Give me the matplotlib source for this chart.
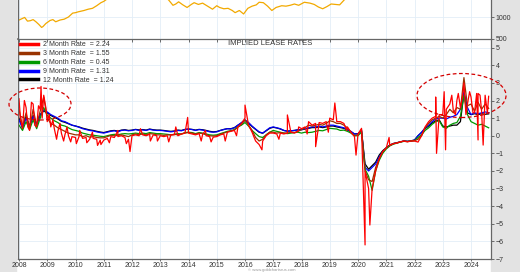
import numpy as np
import matplotlib
matplotlib.use("Agg")
import matplotlib.pyplot as plt
from matplotlib.patches import Ellipse, Rectangle

plt.rcParams['font.family'] = ['Liberation Sans', 'DejaVu Sans']

gold_t = [2008.0, 2008.1, 2008.2, 2008.3, 2008.4, 2008.5, 2008.6, 2008.7, 2008.8, 2008.85,
          2008.95, 2009.1, 2009.2, 2009.3, 2009.45, 2009.6, 2009.75, 2009.9, 2010.0, 2010.1,
          2010.3, 2010.45, 2010.6, 2010.75, 2010.9, 2011.0, 2011.3, 2011.6, 2011.7, 2012.0,
          2012.5, 2012.8, 2013.0, 2013.25, 2013.3, 2013.45, 2013.55, 2013.65, 2013.8, 2013.95,
          2014.1, 2014.2, 2014.35, 2014.5, 2014.65, 2014.85, 2015.0, 2015.1, 2015.25, 2015.4,
          2015.55, 2015.65, 2015.8, 2015.95, 2016.1, 2016.25, 2016.4, 2016.5, 2016.65, 2016.8,
          2016.95, 2017.1, 2017.3, 2017.45, 2017.6, 2017.75, 2017.9, 2018.1, 2018.3, 2018.45,
          2018.6, 2018.75, 2018.9, 2019.05, 2019.2, 2019.35, 2019.45, 2019.55, 2019.7, 2020.0,
          2020.5, 2021.0, 2022.0, 2023.0, 2024.0, 2024.7]
gold_v = [930, 960, 990, 905, 915, 940, 890, 830, 760, 780,
          850, 920, 940, 890, 930, 950, 1000, 1090, 1100, 1120,
          1150, 1180, 1200, 1260, 1330, 1360, 1500, 1800, 1850, 1650,
          1600, 1750, 1670, 1420, 1390, 1270, 1300, 1350, 1280, 1220,
          1290, 1330, 1290, 1320, 1260, 1180, 1260, 1220, 1190, 1200,
          1150, 1100, 1150, 1070, 1200, 1250, 1280, 1340, 1330, 1250,
          1150, 1220, 1260, 1250, 1270, 1300, 1270, 1340, 1320, 1290,
          1230, 1190, 1240, 1300, 1290, 1280, 1350, 1420, 1510, 1560,
          1800, 1850, 1800, 1900, 2050, 2400]

# lease rates, 8 readings per year from 2008.0 to 2024.625
t = np.arange(2008.0, 2024.63, 0.125)

m12 = [1.0, 0.5, 1.1, 0.55, 1.15, 0.65, 1.2, 1.4,
       1.3, 1.15, 1.05, 0.95, 0.82, 0.76, 0.68, 0.6,
       0.55, 0.5, 0.43, 0.38, 0.33, 0.3, 0.25, 0.21,
       0.18, 0.23, 0.28, 0.3, 0.26, 0.32, 0.34, 0.3,
       0.32, 0.36, 0.33, 0.35, 0.32, 0.38, 0.34, 0.32,
       0.32, 0.3, 0.27, 0.25, 0.27, 0.32, 0.3, 0.36,
       0.38, 0.36, 0.32, 0.36, 0.34, 0.3, 0.25, 0.22,
       0.24, 0.3, 0.36, 0.4, 0.4, 0.46, 0.6, 0.72,
       0.88, 0.72, 0.52, 0.36, 0.2, 0.14, 0.28, 0.42,
       0.48, 0.44, 0.38, 0.3, 0.26, 0.28, 0.3, 0.34,
       0.34, 0.38, 0.42, 0.46, 0.46, 0.5, 0.46, 0.5,
       0.55, 0.55, 0.5, 0.46, 0.42, 0.33, 0.22, 0.1,
       0.12, 0.28, -1.6, -1.9, -1.7, -1.5, -1.1, -0.85,
       -0.68, -0.53, -0.44, -0.4, -0.35, -0.3, -0.32, -0.29,
       -0.24, 0.0, 0.18, 0.4, 0.55, 0.72, 0.85, 0.9,
       0.55, 0.5, 0.55, 0.6, 0.6, 0.8, 2.4, 1.3,
       1.2, 1.25, 1.2, 1.25, 1.22, 1.24]

m9 = [0.9, 0.4, 1.0, 0.5, 1.1, 0.6, 1.2, 1.45,
      1.35, 1.2, 1.1, 1.0, 0.85, 0.8, 0.7, 0.6,
      0.55, 0.48, 0.4, 0.35, 0.3, 0.27, 0.22, 0.18,
      0.15, 0.2, 0.25, 0.28, 0.22, 0.3, 0.32, 0.28,
      0.3, 0.35, 0.3, 0.33, 0.3, 0.36, 0.32, 0.3,
      0.3, 0.28, 0.25, 0.22, 0.25, 0.3, 0.28, 0.35,
      0.38, 0.35, 0.3, 0.35, 0.32, 0.28, 0.22, 0.2,
      0.22, 0.3, 0.35, 0.4, 0.38, 0.45, 0.6, 0.75,
      0.9, 0.75, 0.55, 0.38, 0.22, 0.15, 0.3, 0.45,
      0.5, 0.45, 0.4, 0.3, 0.25, 0.28, 0.3, 0.33,
      0.35, 0.4, 0.45, 0.5, 0.5, 0.55, 0.5, 0.55,
      0.6, 0.6, 0.55, 0.5, 0.45, 0.35, 0.25, 0.1,
      0.1, 0.3, -1.8, -2.0, -1.8, -1.6, -1.2, -0.9,
      -0.7, -0.55, -0.45, -0.4, -0.35, -0.3, -0.32, -0.3,
      -0.25, 0.0, 0.2, 0.45, 0.6, 0.8, 0.95, 1.0,
      1.0, 0.95, 1.05, 1.1, 1.2, 1.5, 2.5, 1.6,
      1.2, 1.3, 1.25, 1.3, 1.35, 1.31]

m6 = [0.6, 0.3, 0.8, 0.35, 0.9, 0.4, 1.0, 1.6,
      1.15, 1.0, 0.85, 0.75, 0.6, 0.55, 0.45, 0.35,
      0.3, 0.25, 0.15, 0.1, 0.05, 0.03, 0.0, -0.03,
      -0.05, 0.0, 0.05, 0.08, 0.05, 0.1, 0.12, 0.1,
      0.12, 0.15, 0.12, 0.15, 0.12, 0.18, 0.15, 0.12,
      0.12, 0.1, 0.08, 0.05, 0.08, 0.12, 0.1, 0.18,
      0.2, 0.18, 0.12, 0.18, 0.15, 0.1, 0.05, 0.03,
      0.05, 0.12, 0.18, 0.25, 0.28, 0.35, 0.5, 0.6,
      0.75, 0.55, 0.3, 0.12, -0.05, -0.1, 0.05, 0.2,
      0.3, 0.25, 0.2, 0.15, 0.12, 0.15, 0.18, 0.2,
      0.15, 0.2, 0.18, 0.2, 0.25, 0.3, 0.28, 0.35,
      0.42, 0.4, 0.38, 0.3, 0.32, 0.25, 0.15, 0.0,
      0.0, 0.2, -1.9, -2.3, -3.1, -2.0, -1.4, -1.0,
      -0.75, -0.58, -0.48, -0.42, -0.36, -0.32, -0.33, -0.3,
      -0.28, -0.1, 0.05, 0.3, 0.45, 0.65, 0.8, 0.85,
      0.5, 0.42, 0.6, 0.7, 0.75, 1.1, 2.3, 1.2,
      0.8, 0.7, 0.6, 0.65, 0.55, 0.45]

m3 = [1.5, 0.5, 1.3, 0.4, 1.5, 0.6, 1.4, 2.2,
      1.0, 0.7, 0.6, 0.45, 0.35, 0.25, 0.15, 0.1,
      0.05, 0.05, -0.05, 0.0, -0.08, -0.05, -0.1, -0.12,
      -0.12, -0.05, 0.02, 0.0, 0.02, 0.05, 0.0, -0.05,
      0.05, 0.1, 0.05, 0.1, 0.05, 0.12, 0.1, 0.05,
      0.05, 0.02, 0.05, 0.05, 0.08, 0.05, 0.1, 0.15,
      0.18, 0.15, 0.1, 0.15, 0.12, 0.05, 0.0, -0.02,
      0.0, 0.08, 0.15, 0.22, 0.28, 0.32, 0.5, 0.65,
      0.9, 0.6, 0.3, -0.1, -0.3, -0.2, 0.05, 0.2,
      0.2, 0.15, 0.18, 0.15, 0.15, 0.2, 0.18, 0.25,
      0.35, 0.45, 0.6, 0.55, 0.6, 0.65, 0.6, 0.7,
      0.85, 0.8, 0.7, 0.7, 0.6, 0.45, 0.2, 0.0,
      0.05, 0.35, -2.0, -2.5, -2.6, -1.8, -1.3, -0.9,
      -0.7, -0.55, -0.45, -0.4, -0.35, -0.3, -0.33, -0.3,
      -0.28, -0.2, 0.0, 0.45, 0.7, 0.9, 1.0, 1.1,
      1.0, 1.2, 1.5, 1.3, 1.6, 1.5, 3.3, 1.7,
      1.8, 1.4, 1.9, 1.5, 1.8, 1.55]

m2 = [2.1, 0.4, 1.6, 0.3, 1.8, 0.5, 1.5, 2.3,
      0.8, 0.5, 0.4, 0.25, 0.15, 0.05, 0.0, -0.05,
      -0.1, -0.05, -0.15, -0.1, -0.2, -0.15, -0.2, -0.25,
      -0.25, -0.15, -0.05, -0.1, -0.05, 0.0, -0.1, -0.2,
      0.0, 0.05, 0.0, 0.05, 0.0, 0.08, 0.05, 0.0,
      0.0, -0.05, 0.0, 0.05, 0.05, 0.0, 0.1, 0.15,
      0.15, 0.1, 0.05, 0.12, 0.08, 0.0, -0.05, -0.08,
      -0.05, 0.05, 0.1, 0.2, 0.25, 0.3, 0.5, 0.7,
      1.0, 0.6, 0.2, -0.3, -0.5, -0.3, 0.0, 0.15,
      0.15, 0.1, 0.15, 0.1, 0.15, 0.2, 0.15, 0.25,
      0.4, 0.5, 0.8, 0.6, 0.7, 0.75, 0.7, 0.8,
      1.0, 0.9, 0.8, 0.8, 0.7, 0.5, 0.2, -0.05,
      0.1, 0.42, -2.0, -3.0, -3.0, -2.0, -1.3, -0.9,
      -0.7, -0.55, -0.45, -0.42, -0.35, -0.3, -0.35, -0.3,
      -0.3, -0.36, 0.0, 0.5, 0.8, 1.0, 1.1, 1.2,
      1.2, 1.5, 1.8, 1.4, 2.0, 1.6, 3.0, 1.8,
      2.2, 1.3, 2.4, 1.4, 2.3, 2.24]

# single-day spikes on the 2 month rate
m2_spike_t = [2008.05, 2008.19, 2008.31, 2008.44, 2008.56, 2008.69, 2008.78, 2008.82, 2008.95,
              2009.07, 2009.2, 2009.33, 2009.45, 2009.58, 2009.7, 2009.83, 2010.03, 2010.15,
              2010.4, 2010.6, 2010.78, 2010.9, 2011.2, 2011.5, 2011.8, 2011.93, 2012.3,
              2012.65, 2012.9, 2013.3, 2013.55, 2013.97, 2014.45, 2014.6, 2014.8, 2015.3,
              2015.7, 2016.0, 2016.6, 2017.2, 2017.5, 2017.9, 2018.2, 2018.5, 2018.95,
              2019.18, 2019.6, 2019.93, 2020.25, 2020.42, 2021.1, 2022.75, 2022.78,
              2023.05, 2023.1, 2023.32, 2023.45, 2023.55, 2023.7, 2023.82, 2023.95, 2024.07,
              2024.2, 2024.25, 2024.32, 2024.43, 2024.5, 2024.58]
m2_spike_v = [1.0, 2.0, 0.5, 1.9, 0.6, 1.7, 2.8, 1.0, 1.6,
              1.2, 0.9, -0.2, 0.7, -0.3, 0.5, -0.35, -0.45, 0.3,
              -0.4, 0.2, -0.55, -0.5, -0.4, 0.3, -0.45, -0.9, 0.4,
              -0.3, -0.3, -0.35, 0.5, 1.04, -0.3, 0.3, -0.35, -0.3,
              0.0, 1.74, -0.8, -0.2, 1.18, 0.5, 0.1, -0.62, 0.2,
              1.86, 0.3, -1.1, -6.2, -5.07, -0.1, 2.2, -1.0,
              2.5, -0.8, 2.3, 1.2, 2.4, 2.2, 1.2, 2.5, 1.3,
              2.4, -0.24, 2.3, -0.53, 2.2, 1.3]

labels = ['2 Month Rate  = 2.24', '3 Month Rate  = 1.55', '6 Month Rate  = 0.45',
          '9 Month Rate  = 1.31', '12 Month Rate  = 1.24']
colors = ['#ff0000', '#993300', '#009900', '#0000ff', '#000000']
years = list(range(2008, 2025))

W, H = 520, 272
fig = plt.figure(figsize=(W / 100, H / 100), dpi=100, facecolor='white')
fig.add_artist(Rectangle((0, 0), 16 / W, 1, transform=fig.transFigure,
                         color='#e3e3e3', zorder=-5))
fig.add_artist(Rectangle((491 / W, 0), 1 - 491 / W, 1, transform=fig.transFigure,
                         color='#e3e3e3', zorder=-5))

ax = fig.add_axes([18 / W, 13 / H, 473 / W, 220.3 / H])
ax_top = fig.add_axes([18 / W, (H - 38.7) / H, 473 / W, 38.7 / H])

xlim = (2008 - 1 / 28.25, 2008 + 472 / 28.25)
txt = '#333333'
grid_c = '#e3eef7'

# top panel: gold
ax_top.plot(gold_t, gold_v, color='#f2a900', lw=0.9)
ax_top.set_xlim(*xlim)
ax_top.set_ylim(500, 1392)
ax_top.set_xticks(years)
ax_top.set_xticklabels([])
ax_top.set_yticks([500, 1000])

# bottom panel: lease rates
st = np.concatenate([t, m2_spike_t])
sv = np.concatenate([m2, m2_spike_v])
order = np.argsort(st)
series = [(st[order], sv[order]), (t, m3), (t, m6), (t, m9), (t, m12)]
handles = []
for i in [4, 3, 2, 1, 0]:
    x, y = series[i]
    h, = ax.plot(x, y, color=colors[i], lw=0.9, label=labels[i])
    handles.append(h)
handles = handles[::-1]
ax.set_xlim(*xlim)
ax.set_ylim(-7, 5.51)
ax.set_xticks(years)
ax.set_xticklabels([str(y) for y in years])
ax.set_yticks(range(-7, 6))

for a in (ax, ax_top):
    a.yaxis.tick_right()
    a.grid(True, color=grid_c, lw=0.6)
    a.set_axisbelow(True)
    a.tick_params(axis='both', labelsize=5, colors='#555555', labelcolor=txt,
                  length=2, width=0.6, pad=1.5)
    for s in a.spines.values():
        s.set_color('#666666')
        s.set_linewidth(0.9)
ax.tick_params(axis='x', length=1.5, pad=0.6)
ax_top.spines['top'].set_visible(False)
ax.spines['top'].set_linewidth(1.2)

leg = ax.legend(handles=handles, loc='upper left', bbox_to_anchor=(0.0, 1.0),
                frameon=False, fontsize=5, handlelength=2.6, handletextpad=0.6,
                labelspacing=0.28, borderaxespad=0.25, borderpad=0.1)
for line in leg.get_lines():
    line.set_linewidth(2.5)
for tx in leg.get_texts():
    tx.set_color(txt)

ax.text(252 / 473, 0.976, 'IMPLIED LEASE RATES', transform=ax.transAxes,
        ha='center', va='center', fontsize=5.5, color=txt)

fig.text(272 / W, 0.5 / H, '\u00a9 www.goldchartsrus.com', ha='center',
         va='bottom', fontsize=3, color='#999999')

ring = dict(transform=fig.transFigure, fill=False, ec='#d40000', lw=0.9,
            ls=(0, (3, 2)), zorder=5)
fig.add_artist(Ellipse((40 / W, 1 - 104 / H), 62 / W, 32 / H, **ring))
fig.add_artist(Ellipse((461.5 / W, 1 - 95.5 / H), 89 / W, 44 / H, **ring))

fig.savefig('out.png', dpi=100, facecolor=fig.get_facecolor())
